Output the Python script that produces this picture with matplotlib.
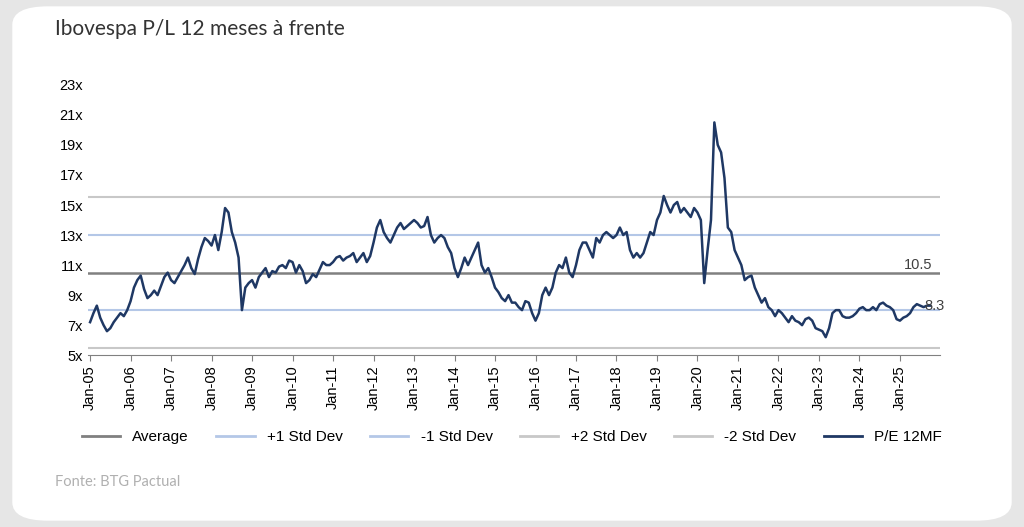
import matplotlib
matplotlib.use("Agg")
import matplotlib.pyplot as plt
from matplotlib.patches import FancyBboxPatch
from matplotlib.lines import Line2D
import numpy as np

# monthly P/E 12MF readings, Jan-05 .. Oct-25
pe = [
    7.2, 7.8, 8.3, 7.5, 7.0, 6.6, 6.8, 7.2, 7.5, 7.8, 7.6, 8.0,
    8.6, 9.5, 10.0, 10.3, 9.4, 8.8, 9.0, 9.3, 9.0, 9.6, 10.2, 10.5,
    10.0, 9.8, 10.2, 10.6, 11.0, 11.5, 10.8, 10.4, 11.4, 12.2, 12.8, 12.6,
    12.3, 13.0, 12.0, 13.2, 14.8, 14.5, 13.2, 12.5, 11.5, 8.0, 9.5, 9.8,
    10.0, 9.5, 10.2, 10.5, 10.8, 10.2, 10.6, 10.5, 10.9, 11.0, 10.8, 11.3,
    11.2, 10.5, 11.0, 10.6, 9.8, 10.0, 10.4, 10.2, 10.7, 11.2, 11.0, 11.0,
    11.2, 11.5, 11.6, 11.3, 11.5, 11.6, 11.8, 11.2, 11.5, 11.8, 11.2, 11.6,
    12.5, 13.5, 14.0, 13.2, 12.8, 12.5, 13.0, 13.5, 13.8, 13.4, 13.6, 13.8,
    14.0, 13.8, 13.5, 13.6, 14.2, 13.0, 12.5, 12.8, 13.0, 12.8, 12.2, 11.8,
    10.8, 10.2, 10.8, 11.5, 11.0, 11.5, 12.0, 12.5, 11.0, 10.5, 10.8, 10.2,
    9.5, 9.2, 8.8, 8.6, 9.0, 8.5, 8.5, 8.2, 8.0, 8.6, 8.5, 7.8,
    7.3, 7.8, 9.0, 9.5, 9.0, 9.5, 10.5, 11.0, 10.8, 11.5, 10.5, 10.2,
    11.0, 12.0, 12.5, 12.5, 12.0, 11.5, 12.8, 12.5, 13.0, 13.2, 13.0, 12.8,
    13.0, 13.5, 13.0, 13.2, 12.0, 11.5, 11.8, 11.5, 11.8, 12.5, 13.2, 13.0,
    14.0, 14.5, 15.6, 15.0, 14.5, 15.0, 15.2, 14.5, 14.8, 14.5, 14.2, 14.8,
    14.5, 14.0, 9.8, 12.0, 14.0, 20.5, 19.0, 18.5, 16.8, 13.5, 13.2, 12.0,
    11.5, 11.0, 10.0, 10.2, 10.3, 9.5, 9.0, 8.5, 8.8, 8.2, 8.0, 7.6,
    8.0, 7.8, 7.5, 7.2, 7.6, 7.3, 7.2, 7.0, 7.4, 7.5, 7.3, 6.8,
    6.7, 6.6, 6.2, 6.8, 7.8, 8.0, 8.0, 7.6, 7.5, 7.5, 7.6, 7.8,
    8.1, 8.2, 8.0, 8.0, 8.2, 8.0, 8.4, 8.5, 8.3, 8.2, 8.0, 7.4,
    7.3, 7.5, 7.6, 7.8, 8.2, 8.4, 8.3, 8.2, 8.3, 8.3,
]
average = 10.5
plus1, minus1 = 13.0, 8.0
plus2, minus2 = 15.5, 5.5
years = list(range(2005, 2026))
tick_labels = [f"Jan-{y % 100:02d}" for y in years]

t = 2005 + np.arange(len(pe)) / 12.0

plt.rcParams["font.family"] = ["Liberation Sans", "DejaVu Sans"]
fig = plt.figure(figsize=(10.24, 5.27), dpi=100, facecolor="#e6e6e6")
card = FancyBboxPatch((0.012, 0.012), 0.976, 0.976, boxstyle="round,pad=0,rounding_size=0.035",
                      transform=fig.transFigure, facecolor="white", edgecolor="none", zorder=-10)
fig.patches.append(card)
fig.text(0.054, 0.945, "Ibovespa P/L 12 meses à frente", fontsize=15, family="Lato",
         color="#333333", va="center")
fig.text(0.054, 0.085, "Fonte: BTG Pactual", fontsize=10.5, family="Lato",
         color="#b0b0b0", va="center")

ax = fig.add_axes([0.086, 0.326, 0.832, 0.513])
ax.set_facecolor("none")
c_avg, c_s1, c_s2, c_pe = "#808080", "#b4c7e7", "#c8c8c8", "#1f3864"
ax.axhline(plus2, color=c_s2, lw=1.5)
ax.axhline(minus2, color=c_s2, lw=1.5)
ax.axhline(plus1, color=c_s1, lw=1.5)
ax.axhline(minus1, color=c_s1, lw=1.5)
ax.axhline(average, color=c_avg, lw=1.8)
ax.plot(t, pe, color=c_pe, lw=1.8)

ax.set_ylim(5, 23)
ax.set_yticks(range(5, 24, 2))
ax.set_yticklabels([f"{v}x" for v in range(5, 24, 2)], fontsize=10.5)
ax.set_xlim(2004.95, 2025.99)
ax.set_xticks(years)
ax.set_xticklabels(tick_labels, rotation=90, fontsize=10.5)
for s in ["top", "right", "left"]:
    ax.spines[s].set_visible(False)
ax.spines["bottom"].set_color("#808080")
ax.tick_params(axis="y", length=0)
ax.tick_params(axis="x", length=4, color="#808080")

ax.text(2025.1, average + 0.05, "10.5", fontsize=10.5, color="#404040", va="bottom")
ax.text(2025.6, pe[-1], "8.3", fontsize=10.5, color="#404040", va="center")

handles = [Line2D([], [], color=c, lw=2) for c in [c_avg, c_s1, c_s1, c_s2, c_s2, c_pe]]
names = ["Average", "+1 Std Dev", "-1 Std Dev", "+2 Std Dev", "-2 Std Dev", "P/E 12MF"]
fig.legend(handles, names, loc="center", bbox_to_anchor=(0.5, 0.17), ncol=6,
           frameon=False, fontsize=11, handlelength=2.5, columnspacing=1.8)

fig.savefig("out.png", dpi=100, facecolor=fig.get_facecolor())
